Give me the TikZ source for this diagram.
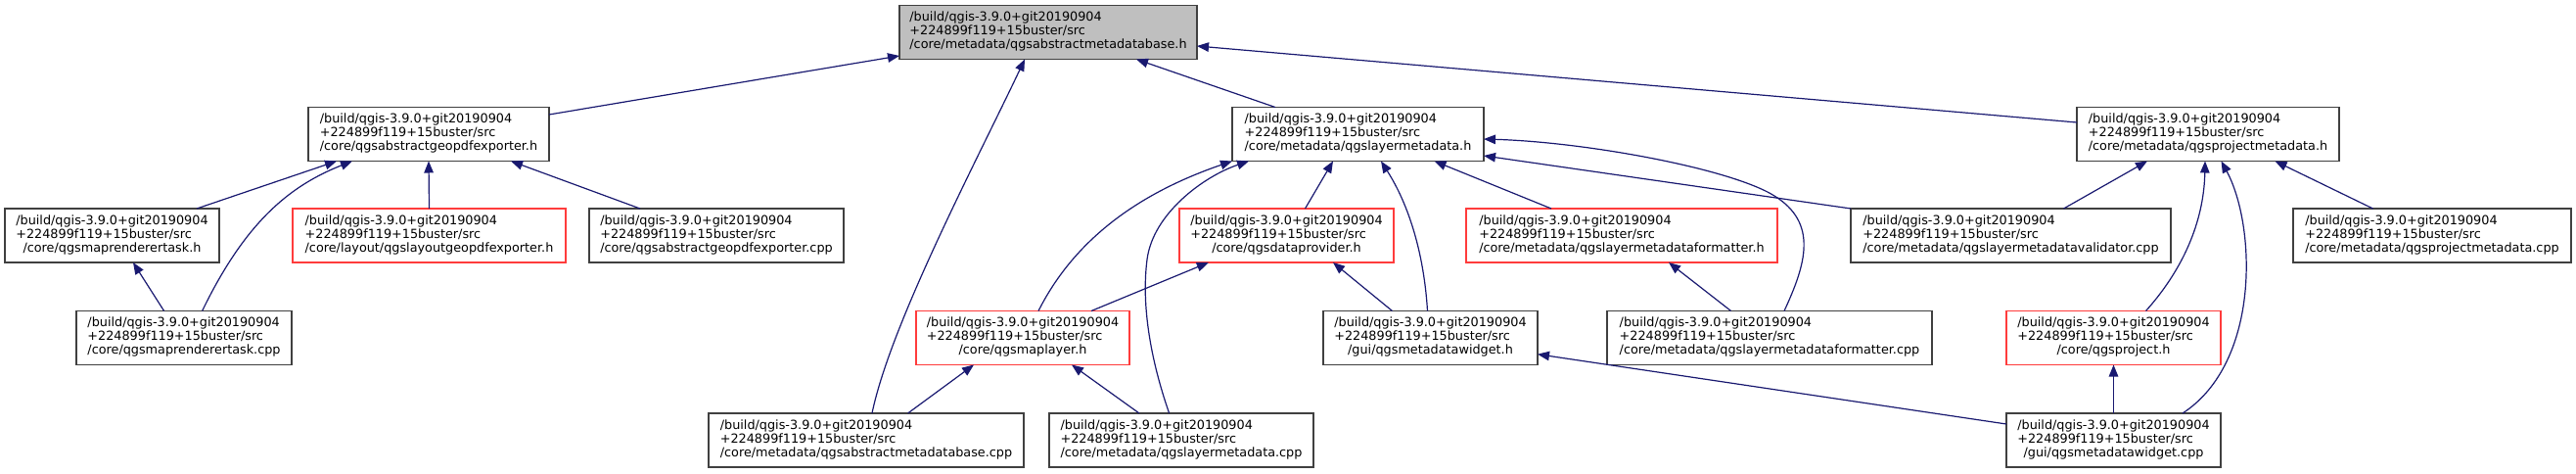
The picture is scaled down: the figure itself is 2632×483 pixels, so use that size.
\documentclass[tikz,border=0pt]{standalone}
\usepackage{fontspec}
\setmainfont{DejaVu Sans}
\usetikzlibrary{arrows.meta}
\definecolor{edgec}{HTML}{191970}
\definecolor{boxc}{HTML}{404040}
\definecolor{redc}{HTML}{FF3C3C}
\definecolor{rootfill}{HTML}{BFBFBF}
\newcommand\dxlab[1]{\begin{tabular}{@{}l@{}}/build/qgis-3.9.0+git20190904\\+224899f119+15buster/src\\\multicolumn{1}{@{}c@{}}{#1}\end{tabular}}
\begin{document}
\begin{tikzpicture}[x=1pt,y=-1pt,
  filebox/.style={draw=boxc, line width=1.3pt, fill=white, minimum height=55pt, inner sep=0pt, outer sep=0pt, font=\fontsize{12.8}{13.7}\selectfont},
  redbox/.style={filebox, draw=redc},
  rootbox/.style={filebox, fill=rootfill},
  dep/.style={draw=edgec, line width=1.2pt, -{Triangle[length=12pt,width=9.5pt]}}]
\useasboundingbox (0,0) rectangle (2632,483);
% row 0
\node[rootbox, minimum width=304pt] (root) at (1071,33) {\dxlab{/core/metadata/qgsabstractmetadatabase.h}};
% row 1
\node[filebox, minimum width=246pt] (geopdfh) at (438,137) {\dxlab{/core/qgsabstractgeopdfexporter.h}};
\node[filebox, minimum width=257pt] (laymeta) at (1387.5,137) {\dxlab{/core/metadata/qgslayermetadata.h}};
\node[filebox, minimum width=268pt] (projmeta) at (2256,137) {\dxlab{/core/metadata/qgsprojectmetadata.h}};
% row 2
\node[filebox, minimum width=219pt] (maprenderh) at (114.5,240.5) {\dxlab{/core/qgsmaprenderertask.h}};
\node[redbox, minimum width=279pt] (layoutgeo) at (438.5,240.5) {\dxlab{/core/layout/qgslayoutgeopdfexporter.h}};
\node[filebox, minimum width=260pt] (geopdfcpp) at (732,240.5) {\dxlab{/core/qgsabstractgeopdfexporter.cpp}};
\node[redbox, minimum width=219pt] (dataprov) at (1314.5,240.5) {\dxlab{/core/qgsdataprovider.h}};
\node[redbox, minimum width=318pt] (lmfh) at (1657,240.5) {\dxlab{/core/metadata/qgslayermetadataformatter.h}};
\node[filebox, minimum width=327pt] (lmval) at (2054.5,240.5) {\dxlab{/core/metadata/qgslayermetadatavalidator.cpp}};
\node[filebox, minimum width=284pt] (projcpp) at (2485,240.5) {\dxlab{/core/metadata/qgsprojectmetadata.cpp}};
% row 3
\node[filebox, minimum width=220pt] (maprcpp) at (188,345) {\dxlab{/core/qgsmaprenderertask.cpp}};
\node[redbox, minimum width=218pt] (maplayer) at (1045,345) {\dxlab{/core/qgsmaplayer.h}};
\node[filebox, minimum width=219pt] (mwh) at (1461.5,345) {\dxlab{/gui/qgsmetadatawidget.h}};
\node[filebox, minimum width=332pt] (lmfcpp) at (1808,345) {\dxlab{/core/metadata/qgslayermetadataformatter.cpp}};
\node[redbox, minimum width=219pt] (projh) at (2159.5,345) {\dxlab{/core/qgsproject.h}};
% row 4
\node[filebox, minimum width=322pt] (amcpp) at (885,449.5) {\dxlab{/core/metadata/qgsabstractmetadatabase.cpp}};
\node[filebox, minimum width=270pt] (lmcpp) at (1207,449.5) {\dxlab{/core/metadata/qgslayermetadata.cpp}};
\node[filebox, minimum width=219pt] (mwcpp) at (2159.5,449.5) {\dxlab{/gui/qgsmetadatawidget.cpp}};
% edges
\draw[dep] ([yshift=20pt]geopdfh.east) -- ([yshift=-24pt]root.west);
\draw[dep] ([xshift=6pt]amcpp.north) .. controls (910,330) and (1000,160) .. ([xshift=-24pt]root.south);
\draw[dep] ([xshift=-84.5pt]laymeta.north) -- ([xshift=90pt]root.south);
\draw[dep] ([yshift=12pt]projmeta.west) -- ([yshift=-14pt]root.east);
\draw[dep] ([xshift=86.5pt]maprenderh.north) -- ([xshift=-94pt]geopdfh.south);
\draw[dep] ([xshift=18.6pt]maprcpp.north) .. controls (250,228) and (295,190) .. ([xshift=-78pt]geopdfh.south);
\draw[dep] (layoutgeo.north) -- (geopdfh.south);
\draw[dep] ([xshift=-78pt]geopdfcpp.north) -- ([xshift=84pt]geopdfh.south);
\draw[dep] ([xshift=-20.4pt]maprcpp.north) -- ([xshift=21.5pt]maprenderh.south);
\draw[dep] ([xshift=16pt]maplayer.north) .. controls (1100,240) and (1170,195) .. (laymeta.south west);
\draw[dep] ([xshift=-12.4pt]lmcpp.north) .. controls (1180,380) and (1165,320) .. (1172,265) .. controls (1178,218) and (1230,180) .. ([xshift=-111.5pt]laymeta.south);
\draw[dep] ([xshift=19pt]dataprov.north) -- ([xshift=-25.5pt]laymeta.south);
\draw[dep] ([xshift=-3pt]mwh.north) .. controls (1455,260) and (1440,210) .. ([xshift=23.5pt]laymeta.south);
\draw[dep] ([xshift=-72pt]lmfh.north) -- ([xshift=78pt]laymeta.south);
\draw[dep] ([xshift=15pt]lmfcpp.north) .. controls (1845,270) and (1858,228) .. (1813,200) .. controls (1768,172) and (1620,145) .. ([yshift=-5pt]laymeta.east);
\draw[dep] (lmval.north west) -- ([yshift=-22pt]laymeta.east);
\draw[dep] ([xshift=54pt]lmval.north) -- ([xshift=-62pt]projmeta.south);
\draw[dep] ([xshift=33pt]projh.north) .. controls (2235,270) and (2252,220) .. ([xshift=-3pt]projmeta.south);
\draw[dep] ([xshift=70.5pt]mwcpp.north) .. controls (2310,370) and (2305,230) .. ([xshift=13.5pt]projmeta.south);
\draw[dep] ([xshift=-60.5pt]projcpp.north) -- ([xshift=68.5pt]projmeta.south);
\draw[dep] ([xshift=70pt]maplayer.north) -- ([xshift=-79.7pt]dataprov.south);
\draw[dep] ([xshift=-39pt]mwh.north) -- ([xshift=47.5pt]dataprov.south);
\draw[dep] ([xshift=-39.4pt]lmfcpp.north) -- ([xshift=48pt]lmfh.south);
\draw[dep] ([xshift=42.6pt]amcpp.north) -- ([xshift=-50pt]maplayer.south);
\draw[dep] ([xshift=-43pt]lmcpp.north) -- ([xshift=50pt]maplayer.south);
\draw[dep] ([yshift=16.5pt]mwcpp.west) -- ([yshift=-16.7pt]mwh.east);
\draw[dep] (mwcpp.north) -- (projh.south);
\end{tikzpicture}
\end{document}
